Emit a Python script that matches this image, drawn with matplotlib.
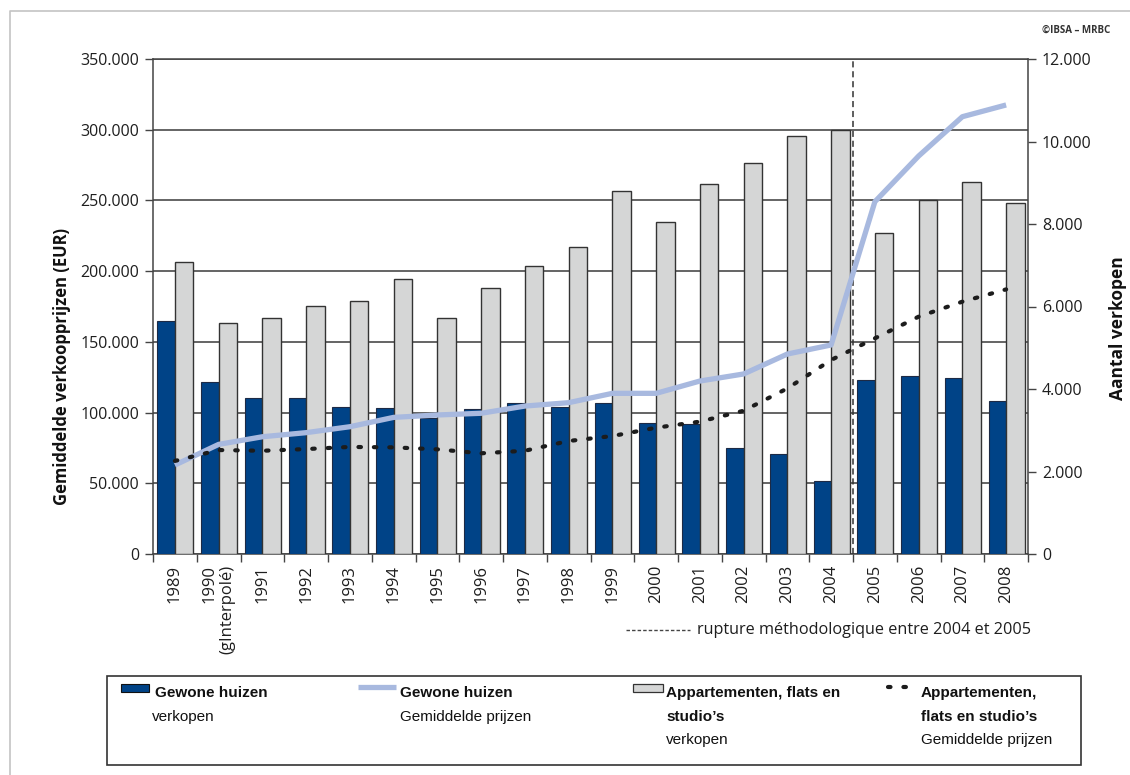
import matplotlib
matplotlib.use("Agg")
import matplotlib.pyplot as plt
from matplotlib.patches import Rectangle
from matplotlib.ticker import FuncFormatter, MultipleLocator
import numpy as np

# ---- data -----------------------------------------------------------------
years = ['1989', '1990\n(gInterpolé)', '1991', '1992', '1993', '1994', '1995',
         '1996', '1997', '1998', '1999', '2000', '2001', '2002', '2003', '2004',
         '2005', '2006', '2007', '2008']

# number of sales (right axis)
houses_sales = [5640, 4160, 3790, 3790, 3570, 3540, 3300, 3510, 3660, 3570,
                3670, 3170, 3140, 2580, 2420, 1760, 4230, 4320, 4260, 3700]
apts_sales = [7070, 5610, 5730, 6010, 6130, 6670, 5730, 6450, 6980, 7450,
              8790, 8040, 8980, 9480, 10130, 10270, 7770, 8570, 9010, 8510]

# average sale prices in EUR (left axis)
houses_price = [62900, 77500, 82900, 85800, 90000, 96600, 98300, 99500, 104600,
                107000, 113600, 113600, 122300, 127300, 141400, 147800, 249100,
                281400, 309200, 317500]
apts_price = [65800, 73500, 73000, 74200, 75700, 75400, 74000, 71200, 73000,
              79900, 83400, 89300, 93600, 101300, 117100, 137200, 152500,
              167800, 178400, 187100]

left_ticks = [0, 50000, 100000, 150000, 200000, 250000, 300000, 350000]
right_ticks = [0, 2000, 4000, 6000, 8000, 10000, 12000]

# ---- style ----------------------------------------------------------------
BLUE = '#004387'
GREY = '#d5d6d6'
LIGHT = '#a8b9df'
DARK = '#1c1c1c'
TXT = '#1e1e1e'
TICKFONT = 'Open Sans'

W, H = 1130, 775
fig = plt.figure(figsize=(W / 100, H / 100), dpi=100)
fig.patch.set_facecolor('white')

pos = [153 / W, 1 - 554 / H, (1028 - 153) / W, (554 - 59) / H]


def dotted(v, _):
    return f'{v:,.0f}'.replace(',', '.')


x = np.arange(len(years))

# base axes: EUR scale with the horizontal grid
ax = fig.add_axes(pos)
ax.set_xlim(-0.5, len(years) - 0.5)
ax.set_ylim(0, 350000)
ax.set_yticks(left_ticks)
ax.yaxis.set_major_formatter(FuncFormatter(dotted))
ax.grid(axis='y', color='#3a3a3a', lw=1.1, zorder=0)
ax.set_axisbelow(True)
ax.set_xticks(x)
ax.set_xticklabels(years, rotation=90, fontsize=12, family=TICKFONT,
                   color=TXT, va='top', ha='center', multialignment='right')
ax.xaxis.set_minor_locator(MultipleLocator(1, offset=0.5))
ax.tick_params(axis='x', which='major', length=0, pad=8)
ax.tick_params(axis='x', which='minor', length=6, width=1, color='#444')
ax.tick_params(axis='y', length=6, width=1, color='#444', labelsize=11.5,
               labelcolor=TXT, pad=4)
for t in ax.get_yticklabels():
    t.set_family(TICKFONT)
ax.set_ylabel('Gemiddelde verkoopprijzen (EUR)', fontsize=12,
              fontweight='bold', family=TICKFONT, color='#111')
ax.yaxis.set_label_coords(-0.094, 0.378)
for s in ['left', 'bottom', 'right', 'top']:
    ax.spines[s].set_color('#444')
    ax.spines[s].set_linewidth(1.1)

# bars: number of sales, right axis
axb = ax.twinx()
axb.set_ylim(0, 12000)
axb.set_yticks(right_ticks)
axb.yaxis.set_major_formatter(FuncFormatter(dotted))
axb.tick_params(axis='y', length=6, width=1, color='#444', labelsize=11.5,
                labelcolor=TXT, pad=4)
for t in axb.get_yticklabels():
    t.set_family(TICKFONT)
axb.set_ylabel('Aantal verkopen', fontsize=12.5, fontweight='bold',
               family=TICKFONT, color='#111')
axb.yaxis.set_label_coords(1.093, 0.457)
for s in axb.spines.values():
    s.set_visible(False)
axb.bar(x, houses_sales, width=-0.4, align='edge', color=BLUE,
        edgecolor='#1d2a45', linewidth=0.8, zorder=2)
axb.bar(x, apts_sales, width=0.42, align='edge', color=GREY,
        edgecolor='#333333', linewidth=1.0, zorder=2)
axb.axvline(15.5, color='#333', lw=1.1, ls=(0, (4, 2.5)), zorder=3)

# price lines on top, EUR scale
axl = fig.add_axes(pos, sharex=ax)
axl.set_ylim(0, 350000)
axl.patch.set_visible(False)
axl.axis('off')
axl.plot(x, houses_price, color=LIGHT, lw=3.8, solid_capstyle='butt',
         solid_joinstyle='round', zorder=4)
axl.plot(x, apts_price, color=DARK, lw=3.0, ls=(0, (0.6, 3.1)),
         dash_capstyle='round', zorder=5)

# ---- annotations, legend box and frame (pixel coordinates) -----------------
ov = fig.add_axes([0, 0, 1, 1])
ov.set_xlim(0, W)
ov.set_ylim(H, 0)
ov.axis('off')
ov.patch.set_visible(False)

# outer frame
ov.plot([10, 10, W], [H, 11, 11], color='#c4c4c4', lw=1.2)

ov.text(1110, 30, '©IBSA – MRBC', fontsize=7, family='Open Sans',
        fontweight='bold', color='#333', ha='right', va='center')

# methodological break note
ov.plot([626, 690], [630, 630], color='#444', lw=1.0, ls=(0, (2.5, 1.5)))
ov.text(697, 630, 'rupture méthodologique entre 2004 et 2005', fontsize=11.7,
        family='Open Sans', color=TXT, ha='left', va='center')

# legend box
ov.add_patch(Rectangle((107, 676), 1081 - 107, 765 - 676, fill=False,
                       edgecolor='#333', lw=1.2))
LF = 'Liberation Sans'
FS = 11
r1, r2, r3 = 693, 717, 740

ov.add_patch(Rectangle((121, 684), 28, 8, facecolor=BLUE, edgecolor='#111',
                       lw=0.8))
ov.text(155, r1, 'Gewone huizen', fontsize=FS, family=LF, fontweight='bold',
        color='#111', va='center')
ov.text(152, r2, 'verkopen', fontsize=FS, family=LF, color='#111',
        va='center')

ov.plot([358, 396], [687, 687], color=LIGHT, lw=3.8, solid_capstyle='butt')
ov.text(400, r1, 'Gewone huizen', fontsize=FS, family=LF, fontweight='bold',
        color='#111', va='center')
ov.text(400, r2, 'Gemiddelde prijzen', fontsize=FS, family=LF, color='#111',
        va='center')

ov.add_patch(Rectangle((633, 684), 30, 8, facecolor=GREY, edgecolor='#333',
                       lw=0.9))
ov.text(666, r1, 'Appartementen, flats en', fontsize=FS, family=LF,
        fontweight='bold', color='#111', va='center')
ov.text(666, r2, 'studio’s', fontsize=FS, family=LF, fontweight='bold',
        color='#111', va='center')
ov.text(666, r3, 'verkopen', fontsize=FS, family=LF, color='#111',
        va='center')

ov.plot([888, 918], [687, 687], color=DARK, lw=3.0, ls=(0, (0.6, 3.1)),
        dash_capstyle='round')
ov.text(921, r1, 'Appartementen,', fontsize=FS, family=LF, fontweight='bold',
        color='#111', va='center')
ov.text(921, r2, 'flats en studio’s', fontsize=FS, family=LF,
        fontweight='bold', color='#111', va='center')
ov.text(921, r3, 'Gemiddelde prijzen', fontsize=FS, family=LF, color='#111',
        va='center')

fig.savefig('out.png', dpi=100, facecolor='white')
